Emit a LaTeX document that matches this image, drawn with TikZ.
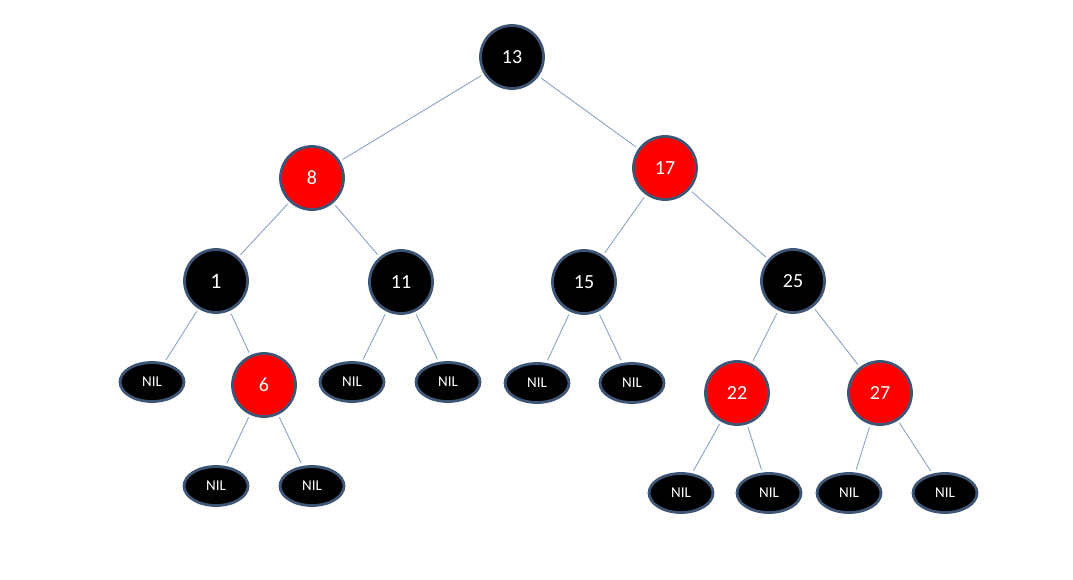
\documentclass[tikz,border=0pt]{standalone}
\usepackage{fontspec}
\setmainfont{Carlito}
\usetikzlibrary{shapes.geometric}
\definecolor{rim}{HTML}{3E5576}
\definecolor{edgeblue}{HTML}{8BA2C2}
\definecolor{rbred}{HTML}{FF0000}
\begin{document}
\begin{tikzpicture}[x=1pt,y=-1pt,
  blk/.style={circle,draw=rim,line width=2.8pt,fill=black,text=white,minimum size=63pt,inner sep=0pt,font=\fontsize{20}{20}\selectfont},
  rd/.style={blk,fill=rbred},
  nil/.style={ellipse,draw=rim,line width=2.8pt,fill=black,text=white,minimum width=64pt,minimum height=39pt,inner sep=0pt,font=\fontsize{15}{15}\selectfont},
  link/.style={draw=edgeblue,line width=0.9pt,shorten <=3pt,shorten >=3pt}]
\useasboundingbox (0,0) rectangle (1073,579);
\node[blk] (n13) at (512,57) {13};
\node[rd] (n8) at (312,178) {8};
\node[rd] (n17) at (665,168) {17};
\node[blk,font=\fontsize{22}{22}\selectfont] (n1) at (216,281) {1};
\node[blk] (n11) at (401,282) {11};
\node[blk] (n15) at (584,282) {15};
\node[blk] (n25) at (793,281) {25};
\node[nil] (a1) at (152,382) {NIL};
\node[rd] (n6) at (264,385) {6};
\node[nil] (a2) at (352,382) {NIL};
\node[nil] (a3) at (448,382) {NIL};
\node[nil] (a4) at (537,383) {NIL};
\node[nil] (a5) at (632,383) {NIL};
\node[rd] (n22) at (737,393) {22};
\node[rd] (n27) at (880,393) {27};
\node[nil] (b1) at (216,486) {NIL};
\node[nil] (b2) at (312,486) {NIL};
\node[nil] (c1) at (681,493) {NIL};
\node[nil] (c2) at (769,493) {NIL};
\node[nil] (c3) at (849,493) {NIL};
\node[nil] (c4) at (945,493) {NIL};
\path[link] (n13) -- (n8);
\path[link] (n13) -- (n17);
\path[link] (n8) -- (n1);
\path[link] (n8) -- (n11);
\path[link] (n17) -- (n15);
\path[link] (n17) -- (n25);
\path[link] (n1) -- (a1);
\path[link] (n1) -- (n6);
\path[link] (n11) -- (a2);
\path[link] (n11) -- (a3);
\path[link] (n15) -- (a4);
\path[link] (n15) -- (a5);
\path[link] (n25) -- (n22);
\path[link] (n25) -- (n27);
\path[link] (n6) -- (b1);
\path[link] (n6) -- (b2);
\path[link] (n22) -- (c1);
\path[link] (n22) -- (c2);
\path[link] (n27) -- (c3);
\path[link] (n27) -- (c4);
\end{tikzpicture}
\end{document}
